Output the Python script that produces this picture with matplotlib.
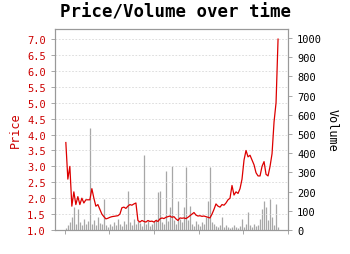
import numpy as np
import matplotlib

matplotlib.use("Agg")
import matplotlib.pyplot as plt

# price and volume sampled along the time axis (x in tick units, 0..4.78)
PRICE = [
    3.75, 2.6, 3.0, 1.75, 2.2, 1.8, 2.05, 1.8, 2.0, 1.85,
    1.95, 1.95, 1.95, 2.3, 2.0, 1.75, 1.8, 1.65, 1.5, 1.42,
    1.35, 1.37, 1.4, 1.42, 1.43, 1.44, 1.45, 1.5, 1.7, 1.72,
    1.68, 1.75, 1.8, 1.78, 1.82, 1.85, 1.3, 1.25, 1.3, 1.27,
    1.25, 1.3, 1.27, 1.28, 1.25, 1.3, 1.27, 1.35, 1.38, 1.36,
    1.4, 1.42, 1.44, 1.4, 1.42, 1.35, 1.3, 1.38, 1.37, 1.38,
    1.36, 1.4, 1.45, 1.5, 1.55, 1.47, 1.44, 1.45, 1.43, 1.44,
    1.42, 1.4, 1.38, 1.5, 1.65, 1.82, 1.75, 1.72, 1.8, 1.78,
    1.85, 1.95, 2.0, 2.4, 2.1, 2.2, 2.15, 2.3, 2.6, 3.2,
    3.5, 3.3, 3.35, 3.2, 3.05, 2.8, 2.7, 2.7, 3.0, 3.15,
    2.75, 2.7, 3.0, 3.4, 4.4, 5.0, 7.0,
]

VOLUME = [
    10, 25, 40, 70, 120, 30, 110, 40, 25, 60,
    30, 45, 530, 30, 50, 25, 70, 35, 30, 160,
    25, 15, 30, 20, 40, 25, 60, 30, 20, 45,
    30, 205, 40, 25, 55, 30, 45, 35, 20, 390,
    30, 45, 20, 30, 45, 60, 200, 205, 40, 30,
    310, 45, 120, 335, 50, 30, 150, 60, 40, 120,
    330, 50, 125, 30, 20, 45, 30, 20, 40, 30,
    70, 150, 330, 40, 30, 20, 15, 25, 70, 15,
    25, 15, 10, 15, 25, 15, 10, 20, 60, 15,
    30, 95, 25, 15, 30, 20, 25, 60, 110, 150,
    120, 50, 160, 70, 25, 135, 15,
]

X_START = 0.022
X_END = 4.776

mono = "DejaVu Sans Mono"
plt.rcParams["font.family"] = mono

t = np.linspace(X_START, X_END, len(PRICE))

fig = plt.figure(figsize=(3.5, 2.55), dpi=100)
ax = fig.add_axes([0.157, 0.094, 0.666, 0.788])
ax2 = ax.twinx()

ax2.vlines(t, 0, VOLUME, color="#8a8a8a", alpha=0.75, linewidth=0.9)
ax.plot(t, PRICE, color="#dd0000", linewidth=0.9)

ax.set_zorder(ax2.get_zorder() + 1)
ax.patch.set_visible(False)

ax.set_xlim(-0.222, 5.0)
ax.set_ylim(1.0, 7.315)
ax2.set_ylim(0, 1047)
ax.set_xticks(range(6))
ax.set_xticklabels([])
ax.set_yticks(np.arange(1.0, 7.01, 0.5))
ax.set_yticklabels([f"{v:.1f}" for v in np.arange(1.0, 7.01, 0.5)])
ax2.set_yticks(range(0, 1001, 100))

ax.grid(axis="y", color="#d8d8d8", linestyle=(0, (2, 2)), linewidth=0.6)

for a in (ax, ax2):
    for s in a.spines.values():
        s.set_color("#999999")
    a.tick_params(length=3, width=0.6, color="#999999", labelsize=7.5)
ax.tick_params(axis="y", labelcolor="#cc0000")

ax.set_ylabel("Price", color="#cc0000", fontsize=8.5, labelpad=4)
ax2.set_ylabel("Volume", fontsize=8.5, rotation=270, labelpad=12)

fig.suptitle("Price/Volume over time", fontsize=12.5, fontweight="bold", y=0.985)

fig.savefig("out.png", dpi=100)
